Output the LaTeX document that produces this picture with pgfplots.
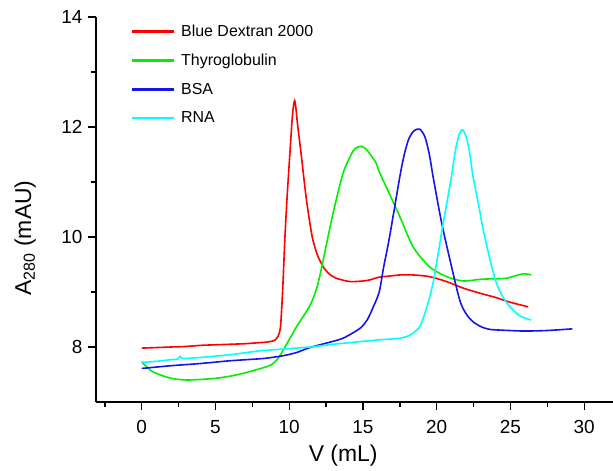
\documentclass[border=0pt]{standalone}
\usepackage{fontspec}
\setmainfont{Liberation Sans}
\usepackage{pgfplots}
\pgfplotsset{compat=1.18}
\definecolor{cRed}{RGB}{255,0,0}
\definecolor{cGreen}{RGB}{0,240,0}
\definecolor{cBlue}{RGB}{20,20,235}
\definecolor{cCyan}{RGB}{0,255,255}
\pgfplotsset{
  longline legend/.style={legend image code/.code={
    \draw[##1, line width=2.3bp] (0bp,0bp) -- (42bp,0bp);
    \path (46bp,0bp);}},
}
\begin{document}
\begin{tikzpicture}
\begin{axis}[
  at={(0,0)}, anchor=south west,
  scale only axis, width=517bp, height=385bp,
  xmin=-3.1, xmax=31.95, ymin=7, ymax=14,
  axis x line=bottom, axis y line=left,
  axis line style={-, line width=1.8bp},
  xtick={0,5,...,30}, minor xtick={-2.5,2.5,...,27.5},
  ytick={8,10,12,14}, minor ytick={9,11,13},
  tick align=outside, major tick length=8bp, minor tick length=5bp,
  tick style={line width=1.4bp, black},
  /pgf/number format/assume math mode=true,
  tick label style={font=\fontsize{19}{21}\selectfont},
  xticklabel style={yshift=-7bp},
  yticklabel style={xshift=-2bp},
  xlabel={V (mL)}, ylabel={A\textsubscript{280} (mAU)},
  label style={font=\fontsize{23}{26}\selectfont},
  xlabel style={at={(axis description cs:0.478,-0.140)}, anchor=center},
  ylabel style={at={(axis description cs:-0.137,0.426)}, anchor=center},
  legend style={draw=none, fill=none, at={(axis description cs:0.062,0.99)},
    anchor=north west, font=\fontsize{16}{18}\selectfont, row sep=12bp},
  legend cell align=left,
  every axis plot/.append style={line width=1.6bp, smooth, tension=0.45, longline legend},
]
% Blue Dextran 2000
\addplot[cRed] coordinates {
(0,7.98)(1,7.99)(2,8.0)(3,8.01)(4,8.03)(5,8.04)(6,8.05)(7,8.06)(8,8.08)(8.5,8.09)
(9,8.12)(9.25,8.2)(9.4,8.35)(9.5,8.75)(9.6,9.3)(9.7,9.95)(9.85,10.7)(10.03,11.46)
(10.2,12.15)(10.3,12.4)(10.37,12.48)(10.45,12.35)(10.55,12.08)(10.7,11.75)(10.83,11.46)
(11.0,11.05)(11.17,10.67)(11.4,10.25)(11.6,9.95)(11.9,9.68)(12.3,9.46)(12.7,9.33)
(13.2,9.25)(14.1,9.19)(15.0,9.2)(15.46,9.22)(16.1,9.27)(16.8,9.29)(17.5,9.31)(18.4,9.31)
(19.5,9.28)(20.66,9.19)(21.8,9.07)(22.9,8.98)(24.0,8.9)(24.9,8.82)(26.2,8.73)};
\addlegendentry{Blue Dextran 2000}
% Thyroglobulin
\addplot[cGreen] coordinates {
(0,7.73)(0.3,7.65)(0.75,7.55)(1.5,7.47)(2.2,7.42)(3.03,7.40)(4,7.41)(5,7.43)(6,7.47)
(7,7.53)(8.2,7.62)(8.8,7.68)(9.24,7.79)(9.8,8.04)(10.5,8.37)(11.4,8.75)(11.9,9.1)
(12.3,9.58)(12.97,10.43)(13.65,11.16)(14.3,11.55)(14.6,11.63)(14.9,11.65)(15.2,11.6)
(15.5,11.5)(15.9,11.34)(16.1,11.19)(16.8,10.78)(17.5,10.37)(18.4,9.82)(19.5,9.46)
(20.66,9.28)(21.8,9.2)(22.9,9.23)(23.8,9.24)(24.7,9.25)(25.85,9.33)(26.4,9.31)};
\addlegendentry{Thyroglobulin}
% BSA
\addplot[cBlue] coordinates {
(0,7.61)(2,7.66)(4,7.7)(6,7.75)(8.2,7.79)(9.56,7.84)(10.5,7.9)(11.4,7.99)(12.5,8.07)
(13.65,8.16)(14.8,8.34)(15.3,8.5)(15.7,8.73)(16.1,9.0)(16.4,9.45)(16.8,10.0)(17.5,11.1)
(17.8,11.5)(18.1,11.78)(18.45,11.93)(18.85,11.96)(19.2,11.82)(19.5,11.5)(19.75,11.1)
(20.3,10.3)(20.9,9.58)(21.56,8.85)(22.0,8.6)(22.46,8.46)(23.0,8.37)(23.6,8.32)
(24.9,8.3)(26,8.29)(27.5,8.3)(29.2,8.33)};
\addlegendentry{BSA}
% RNA
\addplot[cCyan] coordinates {
(0,7.72)(1,7.74)(2,7.77)(2.45,7.78)(2.6,7.83)(2.8,7.79)(4,7.81)(6,7.86)(8,7.93)
(10,7.97)(11.4,8.0)(13,8.05)(14.5,8.09)(16.1,8.13)(17.5,8.16)(18.2,8.22)(18.85,8.37)
(19.3,8.7)(19.75,9.16)(20.1,9.7)(20.4,10.19)(21.0,11.1)(21.25,11.55)(21.5,11.85)
(21.74,11.95)(22.0,11.82)(22.25,11.5)(22.46,11.1)(22.9,10.5)(23.1,10.2)(23.6,9.6)
(24.0,9.2)(24.4,8.95)(24.9,8.75)(25.6,8.57)(26.4,8.49)};
\addlegendentry{RNA}
\end{axis}
\pgfresetboundingbox
\path (-96bp,-69bp) rectangle (517bp,402bp);
\end{tikzpicture}
\end{document}
